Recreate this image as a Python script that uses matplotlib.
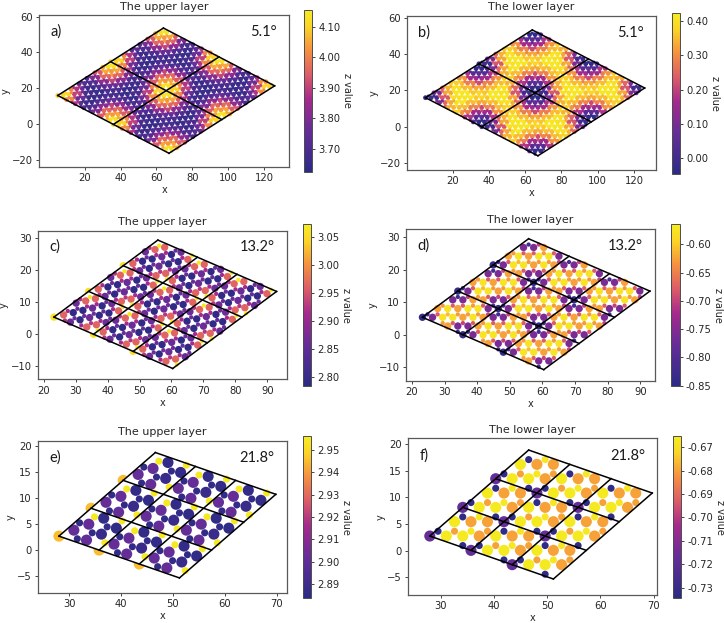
import numpy as np
import matplotlib
matplotlib.use("Agg")
import matplotlib.pyplot as plt
from matplotlib.colors import LinearSegmentedColormap

W, H = 724, 623
LATTICE = 3.10  # lattice constant, same in all panels

# colour bar of the figure, a washed out plasma
cmap_z = LinearSegmentedColormap.from_list("z_cmap", [
    (0.0, "#2b2b85"), (0.25, "#642d98"), (0.45, "#a62a8c"), (0.6, "#dc5c68"),
    (0.75, "#f59040"), (0.9, "#fbd526"), (1.0, "#f5ec20")])

z_upper_51 = [
    [4.10, 4.01, 3.88, 3.74, 3.70, 3.80, 3.94, 4.05, 4.13],
    [4.01, 3.90, 3.77, 3.67, 3.72, 3.83, 3.96, 4.03, 4.05],
    [3.88, 3.77, 3.70, 3.66, 3.72, 3.82, 3.91, 3.96, 3.94],
    [3.74, 3.67, 3.66, 3.66, 3.71, 3.76, 3.82, 3.83, 3.80],
    [3.70, 3.72, 3.72, 3.71, 3.68, 3.71, 3.72, 3.72, 3.70],
    [3.80, 3.83, 3.82, 3.76, 3.71, 3.66, 3.66, 3.67, 3.74],
    [3.94, 3.96, 3.91, 3.82, 3.72, 3.66, 3.70, 3.77, 3.88],
    [4.05, 4.03, 3.96, 3.83, 3.72, 3.67, 3.77, 3.90, 4.01],
    [4.13, 4.05, 3.94, 3.80, 3.70, 3.74, 3.88, 4.01, 4.10],
]
z_lower_51 = [
    [0.00, 0.10, 0.25, 0.34, 0.37, 0.31, 0.18, 0.04, -0.03],
    [0.10, 0.23, 0.33, 0.40, 0.35, 0.28, 0.16, 0.06, 0.04],
    [0.25, 0.33, 0.40, 0.41, 0.35, 0.29, 0.21, 0.16, 0.18],
    [0.34, 0.40, 0.41, 0.41, 0.36, 0.33, 0.29, 0.28, 0.31],
    [0.37, 0.35, 0.35, 0.36, 0.38, 0.36, 0.35, 0.35, 0.37],
    [0.31, 0.28, 0.29, 0.33, 0.36, 0.41, 0.41, 0.40, 0.34],
    [0.18, 0.16, 0.21, 0.29, 0.35, 0.41, 0.40, 0.33, 0.25],
    [0.04, 0.06, 0.16, 0.28, 0.35, 0.40, 0.33, 0.23, 0.10],
    [-0.03, 0.04, 0.18, 0.31, 0.37, 0.34, 0.25, 0.10, 0.00],
]

# 13.2 degrees, upper layer: lattice indices and z of the big and small atoms in one cell
c_big_i = [0, 2, 1, 3, 2, 4, 3, 2, 4, 3, 5, 4, 6, 5, 4, 6, 5, 7, 6]
c_big_j = [0, 1, 0, 1, 0, 1, 0, -1, 0, -1, 0, -1, 0, -1, -2, -1, -2, -1, -2]
c_big_z = [3.06, 2.862, 2.964, 2.964, 2.793, 2.964, 2.793, 2.862, 2.862, 2.793, 2.793, 2.862, 2.862, 2.793, 2.964, 2.793, 2.964, 2.964, 2.862]
c_small_i = [5, 2, 1, 3, 2, 1, 3, 2, 4, 3, 5, 4, 3, 5, 4, 6, 5, 7, 6]
c_small_j = [-3, 1, 0, 1, 0, -1, 0, -1, 0, -1, 0, -1, -2, -1, -2, -1, -2, -1, -2]
c_small_z = [3.07, 2.925, 2.914, 3.07, 2.862, 2.925, 2.914, 2.862, 2.914, 2.862, 2.862, 2.862, 2.914, 2.85, 2.925, 2.914, 2.914, 3.07, 2.862]

# 13.2 degrees, lower layer
d_big_i = [0, 1, 2, 1, 2, 3, 2, 3, 4, 3, 4, 3, 4, 5, 4, 5, 6, 5, 6]
d_big_j = [0, 1, 2, 0, 1, 2, 0, 1, 2, 0, 1, -1, 0, 1, -1, 0, 1, -1, 0]
d_big_z = [-0.84, -0.625, -0.76, -0.76, -0.575, -0.76, -0.575, -0.625, -0.625, -0.575, -0.575, -0.625, -0.625, -0.575, -0.76, -0.575, -0.76, -0.76, -0.625]
d_small_i = [0, 1, 2, 1, 2, 3, 2, 3, 2, 3, 4, 3, 4, 5, 4, 5, 4, 5, 6]
d_small_j = [0, 1, 2, 0, 1, 2, 0, 1, -1, 0, 1, -1, 0, 1, -1, 0, -2, -1, 0]
d_small_z = [-0.82, -0.63, -0.82, -0.68, -0.68, -0.70, -0.61, -0.68, -0.63, -0.63, -0.63, -0.68, -0.63, -0.68, -0.70, -0.63, -0.82, -0.68, -0.70]

# 21.8 degrees, upper layer
e_big_i = [0, 1, 2, 2, 3, 3, 4]
e_big_j = [0, 0, 0, -1, -1, 0, -1]
e_big_z = [2.945, 2.902, 2.902, 2.902, 2.888, 2.886, 2.886]
e_small_i = [1, 1, 2, 3, 2, 3, 4]
e_small_j = [-1, 0, -1, -1, 0, -2, -1]
e_small_z = [2.886, 2.886, 2.886, 2.886, 2.955, 2.955, 2.955]

# 21.8 degrees, lower layer
f_big_i = [0, 1, 1, 2, 2, 3, 3]
f_big_j = [0, 0, 1, 0, 1, 0, 1]
f_big_z = [-0.717, -0.666, -0.666, -0.666, -0.68, -0.68, -0.68]
f_small_i = [0, 1, 2, 1, 2, 2, 3]
f_small_j = [0, 1, -1, 0, 0, 1, 0]
f_small_z = [-0.733, -0.733, -0.733, -0.68, -0.667, -0.667, -0.68]

ticks_a = [3.70, 3.80, 3.90, 4.00, 4.10]
ticks_b = [0.00, 0.10, 0.20, 0.30, 0.40]
ticks_c = [2.80, 2.85, 2.90, 2.95, 3.00, 3.05]
ticks_d = [-0.85, -0.80, -0.75, -0.70, -0.65, -0.60]
ticks_e = [2.89, 2.90, 2.91, 2.92, 2.93, 2.94, 2.95]
ticks_f = [-0.73, -0.72, -0.71, -0.70, -0.69, -0.68, -0.67]


def px_axes(fig, left, top, right, bottom):
    return fig.add_axes([left / W, 1 - bottom / H, (right - left) / W, (bottom - top) / H])


def basis(angle):
    t = np.radians(angle)
    a1 = LATTICE * np.array([np.cos(t), np.sin(t)])
    a2 = LATTICE * np.array([np.cos(t + np.pi / 3), np.sin(t + np.pi / 3)])
    return a1, a2


def fold_sites(m1, m2, offset):
    # lattice sites (plus sublattice offset) that fall inside one moire cell
    mat = np.array([m1, m2], dtype=float).T
    sites = []
    for i in range(-15, 25):
        for j in range(-15, 25):
            u, v = np.linalg.solve(mat, [i + offset, j + offset])
            if 0 <= u < 1 - 1e-9 and 0 <= v < 1 - 1e-9:
                sites.append((i, j, u, v))
    return sites


def draw_panel(ax, cax, p):
    a1, a2 = basis(p["angle"])
    corner = np.array(p["corner"])
    v1 = p["m1"][0] * a1 + p["m1"][1] * a2
    v2 = p["m2"][0] * a1 + p["m2"][1] * a2
    n = p["n"]
    norm = dict(cmap=cmap_z, vmin=p["clim"][0], vmax=p["clim"][1], linewidths=0)
    sc = None
    for idx, (i_s, j_s, z_s, size, off) in enumerate(p["atoms"]):
        xs, ys, zs, under_x, under_y, under_z = [], [], [], [], [], []
        for n1 in range(n):
            for n2 in range(n):
                for i, j, z in zip(i_s, j_s, z_s):
                    pos = corner + n1 * v1 + n2 * v2 + (i + off) * a1 + (j + off) * a2
                    # upper layers: the corner atoms only show outside the cell outline
                    if p.get("hide_corner") and idx == 0 and i == 0 and j == 0:
                        under_x.append(pos[0])
                        under_y.append(pos[1])
                        under_z.append(z)
                    else:
                        xs.append(pos[0])
                        ys.append(pos[1])
                        zs.append(z)
        if under_x:
            ax.scatter(under_x, under_y, c=under_z, s=size, zorder=1, **norm)
        sc = ax.scatter(xs, ys, c=zs, s=size, zorder=3, **norm)
    if p.get("hide_corner"):
        ax.fill(*zip(corner, corner + n * v1, corner + n * (v1 + v2), corner + n * v2), color="white", lw=0, zorder=2)
    for k in range(n + 1):
        s = corner + k * v1
        ax.plot([s[0], (s + n * v2)[0]], [s[1], (s + n * v2)[1]], color="k", lw=1.1, zorder=5)
        s = corner + k * v2
        ax.plot([s[0], (s + n * v1)[0]], [s[1], (s + n * v1)[1]], color="k", lw=1.1, zorder=5)

    ax.set_xlim(*p["xlim"])
    ax.set_ylim(*p["ylim"])
    ax.set_xticks(p["xticks"])
    ax.set_yticks(p["yticks"])
    ax.tick_params(labelsize=7.2, length=2.5, width=0.6, pad=2, colors="0.15")
    ax.set_xlabel("x", fontsize=7, labelpad=1.5, color="0.15")
    ax.set_ylabel("y", fontsize=7, labelpad=1, color="0.15")
    ax.set_title(p["title"], fontsize=8, pad=4, color="0.15")
    for sp in ax.spines.values():
        sp.set_linewidth(0.9)
        sp.set_color("0.35")
    ax.text(0.045, 0.89, p["tag"], transform=ax.transAxes, fontsize=10.5, family="Lato", va="center", color="0.1")
    ax.text(0.95, 0.89, p["deg"], transform=ax.transAxes, fontsize=10.5, family="Lato", va="center", ha="right", color="0.1")

    cb = plt.colorbar(sc, cax=cax)
    cb.set_ticks(p["cticks"])
    cb.ax.set_yticklabels(["%.2f" % t for t in p["cticks"]])
    cb.ax.tick_params(labelsize=7.2, length=2.5, width=0.6, pad=2, colors="0.15")
    cb.outline.set_linewidth(0.7)
    cb.outline.set_edgecolor("0.3")
    cb.set_label("z value", fontsize=7, rotation=270, labelpad=8, color="0.15")


def table_atoms(table, m1, m2, offset):
    # each atom takes the reading of the grid square it falls in
    rows = np.array(table)
    i_s, j_s, z_s = [], [], []
    for i, j, u, v in fold_sites(m1, m2, offset):
        i_s.append(i)
        j_s.append(j)
        z_s.append(rows[int(u * rows.shape[0]), int(v * rows.shape[1])])
    return i_s, j_s, z_s


B = 1 / 3
S_A = (12, 5)
S_C = (28, 9.5)
S_E = (64, 26)

M_UP_51 = ((13, -7), (7, 6))
M_LO_51 = ((13, -6), (6, 7))

panels = [
    dict(box=(39.3, 15.3, 289, 166.7), cbox=(304, 10, 312.3, 171.7), title="The upper layer", tag="a)", deg="5.1°",
         angle=5.09, m1=M_UP_51[0], m2=M_UP_51[1], n=2, corner=(5, 16), clim=(3.626, 4.1545), cticks=ticks_a,
         xlim=(-5.3, 133.9), ylim=(-23.7, 60.7), xticks=range(20, 121, 20), yticks=range(-20, 61, 20), hide_corner=True,
         atoms=[(*table_atoms(z_upper_51, *M_UP_51, 0), S_A[0], 0),
                (*table_atoms(z_upper_51, *M_UP_51, B), S_A[1], B)]),
    dict(box=(407, 16, 656.3, 170), cbox=(672, 12.7, 680.3, 174), title="The lower layer", tag="b)", deg="5.1°",
         angle=0, m1=M_LO_51[0], m2=M_LO_51[1], n=2, corner=(5, 16), clim=(-0.0456, 0.424), cticks=ticks_b,
         xlim=(-5.2, 132.3), ylim=(-24.1, 61.3), xticks=range(20, 121, 20), yticks=range(-20, 61, 20),
         atoms=[(*table_atoms(z_lower_51, *M_LO_51, 0), S_A[0], 0),
                (*table_atoms(z_lower_51, *M_LO_51, B), S_A[1], B)]),
    dict(box=(37.7, 230.7, 287.3, 379.3), cbox=(302.7, 224.3, 311, 386), title="The upper layer", tag="c)", deg="13.2°",
         angle=13.17, m1=(5, -3), m2=(3, 2), n=3, corner=(23.2, 5.3), clim=(2.7845, 3.0732), cticks=ticks_c,
         xlim=(18.1, 96.3), ylim=(-14.2, 32.4), xticks=range(20, 91, 10), yticks=range(-10, 31, 10), hide_corner=True,
         atoms=[(c_big_i, c_big_j, c_big_z, S_C[0], 0), (c_small_i, c_small_j, c_small_z, S_C[1], B)]),
    dict(box=(406, 229, 655.3, 381), cbox=(671.3, 224.3, 679.7, 386), title="The lower layer", tag="d)", deg="13.2°",
         angle=0, m1=(5, -2), m2=(2, 3), n=3, corner=(23.2, 5.3), clim=(-0.8506, -0.5646), cticks=ticks_d,
         xlim=(18.16, 94.6), ylim=(-14.3, 32.46), xticks=range(20, 91, 10), yticks=range(-10, 31, 10),
         atoms=[(d_big_i, d_big_j, d_big_z, S_C[0], 0), (d_small_i, d_small_j, d_small_z, S_C[1], B)]),
    dict(box=(37.7, 441, 287.3, 592.7), cbox=(302.7, 436, 311, 598), title="The upper layer", tag="e)", deg="21.8°",
         angle=21.79, m1=(3, -2), m2=(2, 1), n=3, corner=(28, 2.7), clim=(2.8837, 2.9563), cticks=ticks_e,
         xlim=(23.9, 72.06), ylim=(-8.2, 21.03), xticks=range(30, 71, 10), yticks=range(-5, 21, 5), hide_corner=True,
         atoms=[(e_big_i, e_big_j, e_big_z, S_E[0], 0), (e_small_i, e_small_j, e_small_z, S_E[1], B)]),
    dict(box=(408, 438.3, 657.3, 595), cbox=(672.7, 436, 681.3, 598), title="The lower layer", tag="f)", deg="21.8°",
         angle=0, m1=(3, -1), m2=(1, 2), n=3, corner=(27.9, 2.75), clim=(-0.7343, -0.6653), cticks=ticks_f,
         xlim=(23.8, 70.7), ylim=(-8.3, 21.06), xticks=range(30, 71, 10), yticks=range(-5, 21, 5),
         atoms=[(f_big_i, f_big_j, f_big_z, S_E[0], 0), (f_small_i, f_small_j, f_small_z, S_E[1], B)]),
]

fig = plt.figure(figsize=(W / 100, H / 100), dpi=100)
for p in panels:
    ax = px_axes(fig, *p["box"])
    cax = px_axes(fig, *p["cbox"])
    draw_panel(ax, cax, p)

fig.savefig("out.png", dpi=100)
